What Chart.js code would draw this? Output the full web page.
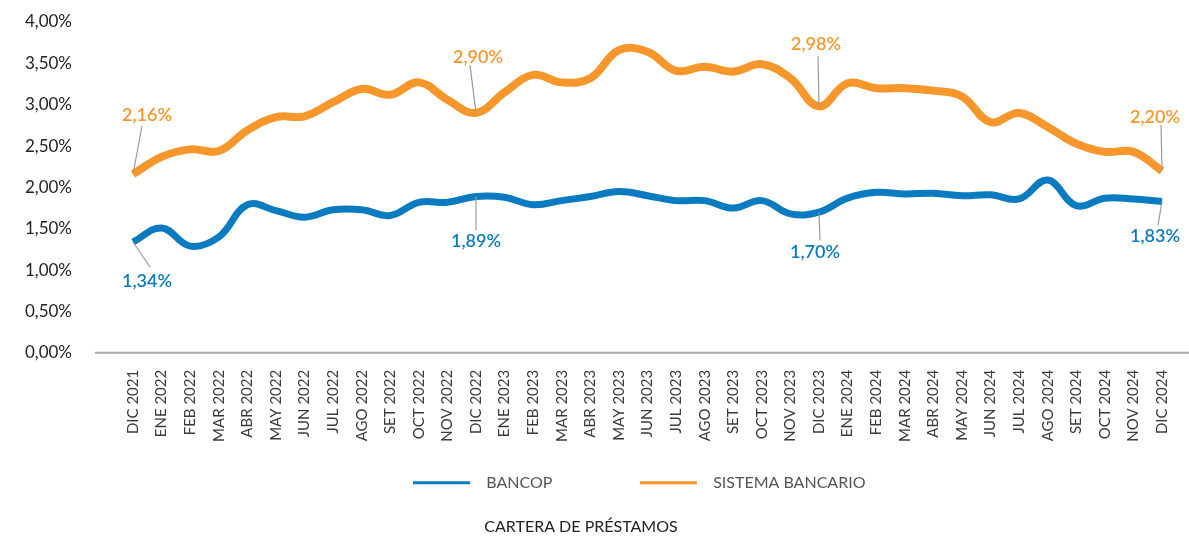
<!DOCTYPE html>
<html>
<head>
<meta charset="utf-8">
<script src="https://cdn.jsdelivr.net/npm/chart.js@4"></script>
<style>
  html, body { margin: 0; padding: 0; background: #fff; }
  #wrap { width: 1189px; height: 537px; }
</style>
</head>
<body>
<div id="wrap"><canvas id="myLineChart" width="1189" height="537"></canvas></div>
<script>
const months = ['DIC 2021', 'ENE 2022', 'FEB 2022', 'MAR 2022', 'ABR 2022', 'MAY 2022', 'JUN 2022', 'JUL 2022',
  'AGO 2022', 'SET 2022', 'OCT 2022', 'NOV 2022', 'DIC 2022', 'ENE 2023', 'FEB 2023', 'MAR 2023', 'ABR 2023',
  'MAY 2023', 'JUN 2023', 'JUL 2023', 'AGO 2023', 'SET 2023', 'OCT 2023', 'NOV 2023', 'DIC 2023', 'ENE 2024',
  'FEB 2024', 'MAR 2024', 'ABR 2024', 'MAY 2024', 'JUN 2024', 'JUL 2024', 'AGO 2024', 'SET 2024', 'OCT 2024',
  'NOV 2024', 'DIC 2024'];

const bancop = [1.34, 1.51, 1.29, 1.40, 1.79, 1.72, 1.64, 1.73, 1.73, 1.66, 1.82, 1.82, 1.89, 1.88, 1.79, 1.84,
  1.89, 1.95, 1.90, 1.84, 1.84, 1.75, 1.84, 1.68, 1.70, 1.87, 1.94, 1.92, 1.93, 1.90, 1.91, 1.86, 2.09, 1.78,
  1.87, 1.86, 1.83];

const sistema = [2.16, 2.37, 2.46, 2.44, 2.69, 2.85, 2.86, 3.03, 3.19, 3.12, 3.27, 3.06, 2.90, 3.15, 3.36, 3.27,
  3.32, 3.66, 3.64, 3.41, 3.46, 3.40, 3.49, 3.32, 2.98, 3.26, 3.20, 3.20, 3.17, 3.10, 2.79, 2.90, 2.73, 2.53,
  2.43, 2.43, 2.20];

const labelIdx = [0, 12, 24, 36];

const BLUE = '#0a7bc1';
const ORANGE = '#f7962b';

function pct(v) {
  return v.toFixed(2).replace('.', ',') + '%';
}

// label placement (label centre and leader end, relative to the point)
const callouts = [
  [ [14, -59, 9, -48], [2, -56, -6, -48], [-3, -62, -1, -50], [-7, -54, -1, -46] ],
  [ [14, 39, 17, 25], [0, 45, 0, 34], [-4, 40, 1, 28], [-7, 35, -4, 24] ]
];

const calloutPlugin = {
  id: 'callouts',
  afterLayout(chart) {
    // move legend so the first line sits where the original has it
    const lg = chart.legend;
    const pad = lg.options.labels.padding;
    const start = (lg.left + pad + lg.right - lg.lineWidths[0]) / 2;
    const d = 413 - start;
    lg.left += d;
    lg.right += d;
  },
  afterDatasetsDraw(chart) {
    const ctx = chart.ctx;
    const y0 = chart.scales.y.getPixelForValue(0);
    ctx.save();
    ctx.strokeStyle = '#a9a9a9';
    ctx.lineWidth = 2;
    ctx.beginPath();
    ctx.moveTo(95, y0);
    ctx.lineTo(1189, y0);
    ctx.stroke();

    [1, 0].forEach(function(di, k) {
      const meta = chart.getDatasetMeta(di);
      const ds = chart.data.datasets[di];
      labelIdx.forEach(function(idx, j) {
        const p = meta.data[idx];
        const o = callouts[k][j];
        ctx.strokeStyle = '#9a9a9a';
        ctx.lineWidth = 1.2;
        ctx.beginPath();
        ctx.moveTo(p.x, p.y);
        ctx.lineTo(p.x + o[2], p.y + o[3]);
        ctx.stroke();
        ctx.fillStyle = ds.borderColor;
        ctx.font = '600 18px Lato';
        ctx.textAlign = 'center';
        ctx.textBaseline = 'middle';
        ctx.fillText(pct(ds.data[idx]), p.x + o[0], p.y + o[1]);
      });
    });
    ctx.restore();
  }
};

document.addEventListener('DOMContentLoaded', function() {
  const ctxLine = document.getElementById('myLineChart');
  new Chart(ctxLine, {
    type: 'line',
    data: {
      labels: months,
      datasets: [
        {
          label: 'BANCOP',
          data: bancop,
          borderColor: BLUE,
          backgroundColor: BLUE,
          borderWidth: 7,
          pointRadius: 0,
          tension: 0.4
        },
        {
          label: 'SISTEMA BANCARIO',
          data: sistema,
          borderColor: ORANGE,
          backgroundColor: ORANGE,
          borderWidth: 8,
          pointRadius: 0,
          tension: 0.4
        }
      ]
    },
    options: {
      responsive: false,
      animation: false,
      layout: { padding: { top: 22, right: 27, bottom: 0, left: 0 } },
      plugins: {
        legend: {
          position: 'bottom',
          labels: {
            boxWidth: 57,
            boxHeight: 3,
            padding: 18,
            color: '#555',
            font: { family: 'Lato', size: 16 },
            generateLabels(chart) {
              return chart.data.datasets.map(function(ds, i) {
                return {
                  text: '  ' + ds.label + (i === 0 ? '                 ' : ''),
                  fillStyle: ds.borderColor,
                  strokeStyle: ds.borderColor,
                  lineWidth: 0,
                  fontColor: '#555',
                  datasetIndex: i
                };
              });
            }
          }
        },
        title: {
          display: true,
          position: 'bottom',
          text: 'CARTERA DE PRÉSTAMOS',
          color: '#222',
          font: { family: 'Lato', size: 16, weight: 'normal' },
          padding: { top: 16, bottom: 1 }
        },
        tooltip: { enabled: false }
      },
      scales: {
        x: {
          grid: { display: false },
          border: { display: false },
          afterFit(scale) {
            scale.height = 104;
            scale.paddingRight = 0;
            scale.paddingLeft = 0;
          },
          ticks: {
            minRotation: 90,
            maxRotation: 90,
            autoSkip: false,
            padding: 9,
            color: '#3a3a3a',
            font: { family: 'Lato', size: 15 }
          }
        },
        y: {
          min: 0,
          max: 4,
          grid: { display: false },
          border: { display: false },
          afterFit(scale) {
            scale.width = 133;
            scale.paddingTop = 0;
            scale.paddingBottom = 0;
          },
          ticks: {
            stepSize: 0.5,
            padding: 53,
            color: '#222',
            font: { family: 'Lato', size: 17 },
            callback: function(v) { return pct(v); }
          }
        }
      }
    },
    plugins: [calloutPlugin]
  });
});
</script>
</body>
</html>
